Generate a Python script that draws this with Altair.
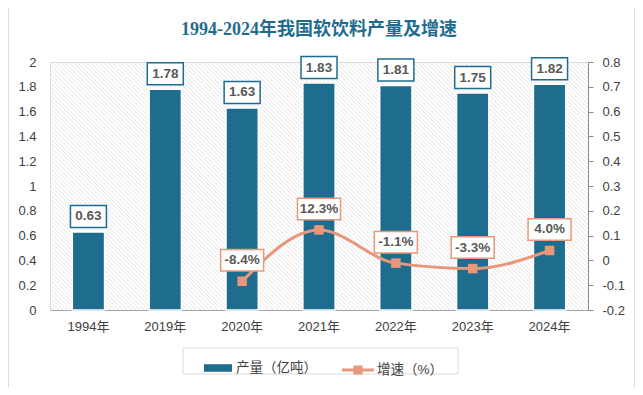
import altair as alt
import pandas as pd

years = ["1994年", "2019年", "2020年", "2021年", "2022年", "2023年", "2024年"]
output = [0.63, 1.78, 1.63, 1.83, 1.81, 1.75, 1.82]
growth_years = ["2020年", "2021年", "2022年", "2023年", "2024年"]
growth_pct = [-8.4, 12.3, -1.1, -3.3, 4.0]
left_ticks = [0, 0.2, 0.4, 0.6, 0.8, 1, 1.2, 1.4, 1.6, 1.8, 2]
right_ticks = [-0.2, -0.1, 0, 0.1, 0.2, 0.3, 0.4, 0.5, 0.6, 0.7, 0.8]
s_bar = "产量（亿吨）"
s_line = "增速（%）"
title = "1994-2024年我国软饮料产量及增速"

BAR = "#1f6d8e"
LINE = "#e8977a"
TXT = "#595959"
AX = "#404040"
FONT = "Liberation Sans, Noto Sans CJK SC"
W, H = 538, 248

bar_df = pd.DataFrame({"year": years, "v": output, "s": s_bar,
                       "lab": [f"{v:.2f}" for v in output]})
line_df = pd.DataFrame({"year": growth_years, "g": [p / 100 for p in growth_pct],
                        "s": s_line, "lab": [f"{p:.1f}%" for p in growth_pct]})

x_enc = alt.X("year:N", sort=years, title=None,
              scale=alt.Scale(domain=years, paddingInner=0.58, paddingOuter=0.29),
              axis=alt.Axis(labelAngle=0, labelFont=FONT, labelFontSize=13, labelColor=AX,
                            labelPadding=10, ticks=False, domainColor="#a6a6a6",
                            domainWidth=1, grid=False))

# background hatch (decoration only, pixel space)
hatch = alt.Chart(alt.sequence(-H, W + 5, 4.3, as_="x0")).transform_calculate(
    xe=f"datum.x0 + {H}", ya="0", yb=str(H)
).mark_rule(clip=True, color="#dadada", strokeWidth=0.8).encode(
    x=alt.X("x0:Q", scale=None, axis=None),
    x2="xe:Q",
    y=alt.Y("ya:Q", scale=None, axis=None),
    y2="yb:Q",
)

one = pd.DataFrame({"a": [0]})
frame = alt.Chart(one).mark_rect(fillOpacity=0, stroke="#d0d0d0", strokeWidth=1.5).encode(
    x=alt.value(-42), x2=alt.value(585), y=alt.value(-55), y2=alt.value(326))
legend_frame = alt.Chart(one).mark_rect(fillOpacity=0, stroke="#d9d9d9", strokeWidth=1).encode(
    x=alt.value(133), x2=alt.value(408), y=alt.value(286), y2=alt.value(312))

y_left = alt.Y("v:Q", title=None, scale=alt.Scale(domain=[0, 2]),
               axis=alt.Axis(values=left_ticks, format=".1~f", domain=False, ticks=False,
                             grid=False, labelFont=FONT, labelFontSize=13, labelColor=AX,
                             labelPadding=14))

bars = alt.Chart(bar_df).mark_bar(stroke="white", strokeWidth=1.5).encode(
    x=x_enc, y=y_left,
    color=alt.Color("s:N", scale=alt.Scale(domain=[s_bar], range=[BAR]),
                    legend=alt.Legend(title=None, orient="none", legendX=154, legendY=292,
                                      symbolType="M-1,-0.27H1V0.27H-1Z", symbolSize=784,
                                      symbolStrokeWidth=0, labelFont=FONT, labelFontSize=13.5,
                                      labelColor=AX, labelOffset=4, padding=0)))
bar_box = alt.Chart(bar_df).mark_point(
    shape="M-1,-0.611H1V0.611H-1Z", size=1296, filled=True, fill="white", stroke=BAR,
    strokeWidth=1.5, opacity=1, yOffset=-15.5).encode(x=x_enc, y=y_left)
bar_txt = alt.Chart(bar_df).mark_text(
    font=FONT, fontSize=13.5, fontWeight="bold", color=TXT, baseline="middle",
    yOffset=-15.5).encode(x=x_enc, y=y_left, text="lab:N")

bar_layer = alt.layer(bars, bar_box, bar_txt)

y_right = alt.Y("g:Q", title=None, scale=alt.Scale(domain=[-0.2, 0.8]),
                axis=alt.Axis(orient="right", values=right_ticks,
                              labelExpr="replace(format(datum.value, '.1~f'), '\u2212', '-')",
                              domain=True, domainColor="#8c8c8c", ticks=True, tickColor="#8c8c8c",
                              tickSize=5, grid=False, labelFont=FONT, labelFontSize=13,
                              labelColor=AX, labelPadding=9))

line = alt.Chart(line_df).mark_line(interpolate="monotone", color=LINE, strokeWidth=3).encode(
    x=x_enc, y=y_right)
pts = alt.Chart(line_df).mark_point(shape="square", filled=True, size=90, opacity=1).encode(
    x=x_enc, y=y_right,
    color=alt.Color("s:N", scale=alt.Scale(domain=[s_line], range=[LINE]),
                    legend=alt.Legend(title=None, orient="none", legendX=292, legendY=292,
                                      symbolType="M-1,-0.1H1V0.1H-1Z M-0.28,-0.28H0.28V0.28H-0.28Z",
                                      symbolSize=1024, symbolStrokeWidth=0, labelFont=FONT,
                                      labelFontSize=13.5, labelColor=AX, labelOffset=3, padding=0)))
line_box = alt.Chart(line_df).mark_point(
    shape="M-1,-0.5H1V0.5H-1Z", size=1849, filled=True, fill="white", stroke=LINE,
    strokeWidth=1.5, opacity=1, yOffset=-21).encode(x=x_enc, y=y_right)
line_txt = alt.Chart(line_df).mark_text(
    font=FONT, fontSize=13.5, fontWeight="bold", color=TXT, baseline="middle",
    yOffset=-21).encode(x=x_enc, y=y_right, text="lab:N")

line_layer = alt.layer(line, pts, line_box, line_txt)

chart = alt.layer(frame, legend_frame, hatch, bar_layer, line_layer).resolve_scale(
    y="independent", color="independent"
).properties(
    width=W, height=H,
    autosize=alt.AutoSizeParams(type="none"),
    padding={"left": 42, "top": 54, "right": 47, "bottom": 77},
    title=alt.TitleParams(title, font="Liberation Serif, Noto Sans CJK SC", fontSize=18,
                          fontWeight="bold", color=BAR, anchor="middle", offset=-33),
).configure_view(stroke=None).configure(background="white")

chart.save("out.html", embed_options={"renderer": "svg", "actions": False})
